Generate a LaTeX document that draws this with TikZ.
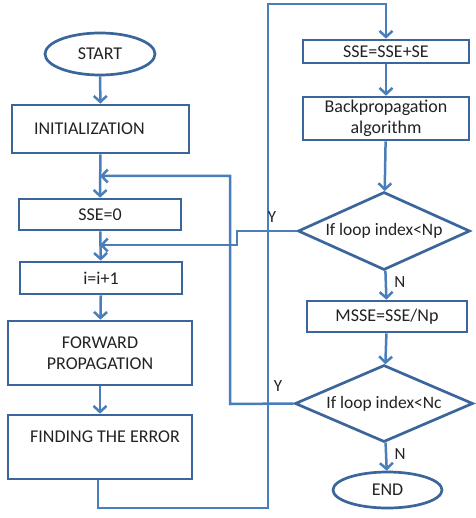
\documentclass[tikz,border=0pt]{standalone}
\usepackage{fontspec}
\setmainfont{Carlito}
\usetikzlibrary{shapes.geometric,arrows.meta}
\definecolor{lineblue}{HTML}{4A7EBB}
\definecolor{boxblue}{HTML}{3A669B}
\definecolor{txt}{HTML}{222222}
\begin{document}
\begin{tikzpicture}[x=1pt,y=-1pt,
  every node/.style={font=\fontsize{18}{21}\selectfont, text=txt},
  box/.style={draw=boxblue, line width=2.7pt, rectangle, inner sep=0pt, align=center},
  oval/.style={draw=boxblue, line width=2.7pt, ellipse, inner sep=0pt},
  dia/.style={draw=boxblue, line width=2.7pt, diamond, inner sep=0pt, aspect=2.2, font=\fontsize{17.5}{20}\selectfont},
  conn/.style={draw=lineblue, line width=2.5pt, -{Straight Barb[length=6pt,width=13pt,line width=2.5pt]}},
  lbl/.style={font=\fontsize{17}{20}\selectfont}]
\useasboundingbox (0,0) rectangle (475,518);
% left column
\node[oval, minimum width=110pt, minimum height=42pt] (start) at (100,54) {START};
\node[box, minimum width=177pt, minimum height=48pt, text width=133pt, inner xsep=22pt, align=left] (init) at (100.5,129) {INITIALIZATION};
\node[box, minimum width=162pt, minimum height=31pt] (sse0) at (100,214.5) {SSE=0};
\node[box, minimum width=162pt, minimum height=32pt] (inc) at (101,278) {i=i+1};
\node[box, minimum width=184pt, minimum height=64pt] (fwd) at (100,353) {FORWARD\\PROPAGATION};
\node[box, minimum width=184pt, minimum height=64pt] (find) at (100,447) {};
\node (findtxt) at (105,437) {FINDING THE ERROR};
% right column
\node[box, minimum width=166pt, minimum height=23pt] (ssesum) at (386,51.5) {SSE=SSE+SE};
\node[box, minimum width=166pt, minimum height=43pt] (bp) at (386,118.5) {Backpropagation\\algorithm};
\node[dia, minimum width=172pt, minimum height=78pt] (dnp) at (384,231) {If loop index<Np};
\node[box, minimum width=160pt, minimum height=31pt] (msse) at (387,316.5) {MSSE=SSE/Np};
\node[dia, minimum width=178pt, minimum height=77pt] (dnc) at (384,403.5) {If loop index<Nc};
\node[oval, minimum width=109pt, minimum height=36pt] (end) at (387.5,490) {END};
% coordinates
\coordinate (j1) at (100,176);
\coordinate (j2) at (100,245);
% connectors
\draw[conn] (start) -- (init);
\draw[conn] (init) -- (sse0);
\draw[conn] (sse0) -- (inc);
\draw[conn] (inc) -- (fwd);
\draw[conn] (fwd) -- (find);
\draw[conn] (find.south -| 98,0) -- (98,508) -- (268,508) -- (268,4) -- (ssesum.north |- 0,4) -- (ssesum.north);
\draw[conn] (ssesum) -- (bp);
\draw[conn] (bp) -- (dnp);
\draw[conn] (dnp) -- node[lbl, right=4pt, pos=0.4] (n1) {N} (msse);
\draw[conn] (msse) -- (dnc);
\draw[conn] (dnc) -- node[lbl, right=4pt, pos=0.4] (n2) {N} (end);
\draw[conn] (dnp.west) -- (237,231) -- (237,245) -- (j2);
\draw[conn] (dnc.west) -- (230,404) -- (230,176) -- (j1);
\node[lbl] (y1) at (272,217) {Y};
\node[lbl] (y2) at (278,386) {Y};
\end{tikzpicture}
\end{document}
